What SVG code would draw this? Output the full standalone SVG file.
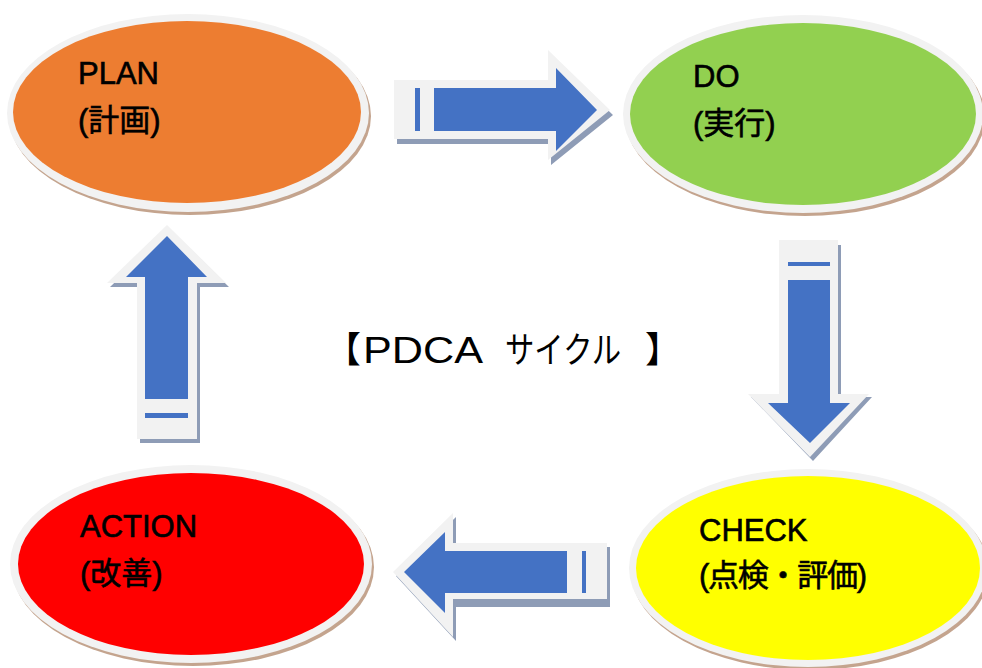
<svg xmlns="http://www.w3.org/2000/svg" width="982" height="668" viewBox="0 0 982 668">
<style>
.sh{fill:#c4a48e}
.ring{fill:#f2f2f2}
.lbl{font-family:"Liberation Sans","Noto Sans CJK JP",sans-serif;font-size:31px;fill:#000;stroke:#000;stroke-width:0.6px}
.ttl{font-family:"Liberation Sans","Noto Sans CJK JP",sans-serif;font-size:36px;fill:#000}
.ash{fill:#8e9cb6}
.aout{fill:#f2f2f2}
.ain{fill:#4472c4}
</style>
<rect width="982" height="668" fill="#ffffff"/>
<g id="plan">
<ellipse class="sh" cx="190" cy="116" rx="181" ry="99"/>
<ellipse class="ring" cx="188" cy="113" rx="181" ry="99"/>
<ellipse cx="187" cy="112" rx="174" ry="91" fill="#ed7d31"/>
<text class="lbl" x="78" y="84">PLAN</text>
<text class="lbl" x="78" y="131">(計画)</text>
</g>
<g id="do">
<ellipse class="sh" cx="805" cy="117" rx="180" ry="99"/>
<ellipse class="ring" cx="803" cy="114" rx="180" ry="99"/>
<ellipse cx="803" cy="114" rx="173" ry="91" fill="#92d050"/>
<text class="lbl" x="693" y="87">DO</text>
<text class="lbl" x="693" y="134">(実行)</text>
</g>
<g id="check">
<ellipse class="sh" cx="810" cy="571" rx="179" ry="99"/>
<ellipse class="ring" cx="808" cy="568" rx="179" ry="99"/>
<ellipse cx="808" cy="568" rx="172" ry="92" fill="#ffff00"/>
<text class="lbl" x="699" y="541">CHECK</text>
<text class="lbl" x="699" y="586" textLength="168" lengthAdjust="spacing">(点検・評価)</text>
</g>
<g id="action">
<ellipse class="sh" cx="193" cy="567" rx="181" ry="99"/>
<ellipse class="ring" cx="191" cy="564" rx="181" ry="99"/>
<ellipse cx="191" cy="564" rx="173" ry="91" fill="#ff0000"/>
<text class="lbl" x="80" y="537">ACTION</text>
<text class="lbl" x="80" y="584">(改善)</text>
</g>
<g id="title">
<text class="ttl" x="325" y="363">【</text>
<text class="ttl" x="363" y="363" textLength="120" lengthAdjust="spacingAndGlyphs">PDCA</text>
<text class="ttl" x="505" y="363" textLength="116" lengthAdjust="spacingAndGlyphs">サイクル</text>
<text class="ttl" x="645" y="363">】</text>
</g>
<g id="connectors">
<g id="arrow-right">
<polygon class="ash" points="397,85 551,85 551,55 613,115 551,165 551,144 397,144"/>
<polygon class="aout" points="394,80 548,80 548,50 610,110 548,160 548,139 394,139"/>
<polygon class="ain" points="434,88 556,88 556,68 597,110 556,151 556,131 434,131"/>
<rect class="ain" x="415" y="88" width="5" height="43"/>
</g>
<g id="arrow-down">
<polygon class="ash" points="782,245 841,245 841,397 872,397 813,461 751,397 782,397"/>
<polygon class="aout" points="779,240 838,240 838,394 869,394 810,457 748,394 779,394"/>
<polygon class="ain" points="788,280 830,280 830,403 850,403 810,443 768,403 788,403"/>
<rect class="ain" x="788" y="262" width="42" height="4"/>
</g>
<g id="arrow-left">
<polygon class="ash" points="396,576 456,517 456,547 610,547 610,607 456,607 456,641"/>
<polygon class="aout" points="393,572 453,513 453,543 607,543 607,599 453,599 453,637"/>
<polygon class="ain" points="404,572 445,532 445,551 567,551 567,593 445,593 445,613"/>
<rect class="ain" x="582" y="551" width="4" height="42"/>
</g>
<g id="arrow-up">
<polygon class="ash" points="170,229 229,287 200,287 200,443 140,443 140,287 110,287"/>
<polygon class="aout" points="167,225 226,283 197,283 197,439 137,439 137,283 107,283"/>
<polygon class="ain" points="167,236 207,277 188,277 188,399 145,399 145,277 126,277"/>
<rect class="ain" x="145" y="413" width="43" height="5"/>
</g>
</g>
</svg>
